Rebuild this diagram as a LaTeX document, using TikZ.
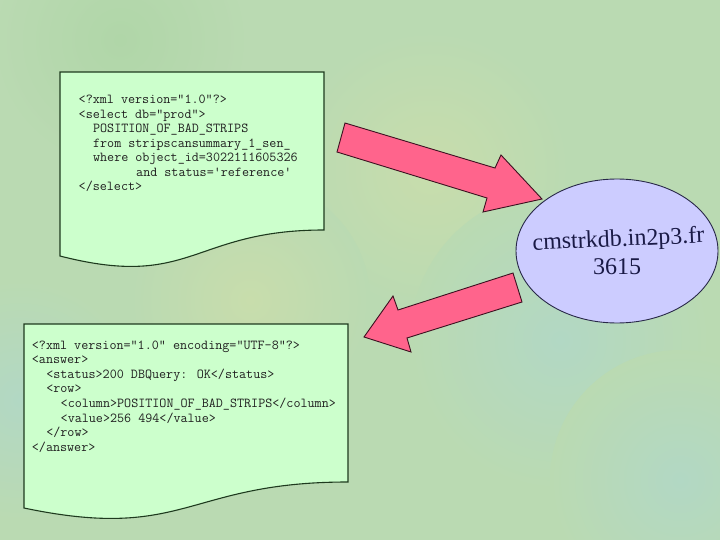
\documentclass[tikz,border=0pt]{standalone}
\usepackage{fontspec}
\newfontfamily\dbfont{Liberation Serif}
\usetikzlibrary{shapes.geometric}
\definecolor{bgbase}{RGB}{186,218,178}
\definecolor{bgyellow}{RGB}{200,221,172}
\definecolor{bgblue}{RGB}{178,216,196}
\definecolor{bggreen}{RGB}{176,214,168}
\definecolor{docfill}{RGB}{204,255,204}
\definecolor{docline}{RGB}{30,58,30}
\definecolor{codetext}{RGB}{32,32,32}
\definecolor{arrowfill}{RGB}{255,100,140}
\definecolor{arrowline}{RGB}{60,16,32}
\definecolor{dbfill}{RGB}{204,204,255}
\definecolor{dbline}{RGB}{40,40,72}
\definecolor{dbtext}{RGB}{26,26,70}
\begin{document}
\begin{tikzpicture}[x=1pt,y=-1pt,
  doc/.style={fill=docfill, draw=docline, line width=1.1pt},
  code/.style={anchor=base west, inner sep=0pt, font=\fontsize{13.7}{14.5}\selectfont\ttfamily, text=codetext},
  blockarrow/.style={fill=arrowfill, draw=arrowline, line width=0.9pt, line join=miter},
  dbtxt/.style={inner sep=0pt, font=\dbfont\fontsize{24}{24}\selectfont, text=dbtext}]
% background
\useasboundingbox (0,0) rectangle (720,540);
\fill[bgbase] (0,0) rectangle (720,540);
\begin{scope}
\clip (0,0) rectangle (720,540);
\shade[inner color=bgyellow, outer color=bgbase] (430,170) circle (140);
\shade[inner color=bgyellow, outer color=bgbase] (250,300) circle (120);
\shade[inner color=bgblue, outer color=bgbase] (560,340) circle (150);
\shade[inner color=bgblue, outer color=bgbase] (20,400) circle (120);
\shade[inner color=bgblue, outer color=bgbase] (680,480) circle (130);
\shade[inner color=bggreen, outer color=bgbase] (120,40) circle (130);
\end{scope}
% request document
\draw[doc] (60,72) -- (324,72) -- (324,230) .. controls (192,230) and (192,290) .. (60,256) -- cycle;
\node[code] (q1) at (78.5,104) {<?xml version=\textquotedbl 1.0\textquotedbl ?>};
\node[code] (q2) at (78.5,118.45) {<select db=\textquotedbl prod\textquotedbl >};
\node[code] (q3) at (92.9,132.9) {POSITION\_OF\_BAD\_STRIPS};
\node[code] (q4) at (92.9,147.35) {from stripscansummary\_1\_sen\_};
\node[code] (q5) at (92.9,161.8) {where object\_id=3022111605326};
\node[code] (q6) at (136,176.25) {and status=\textquotesingle reference\textquotesingle};
\node[code] (q7) at (78.5,190.7) {</select>};
% answer document
\draw[doc] (24,324) -- (348,324) -- (348,482) .. controls (186,482) and (186,542) .. (24,508) -- cycle;
\node[code] (a1) at (31.7,349) {<?xml version=\textquotedbl 1.0\textquotedbl\ encoding=\textquotedbl UTF-8\textquotedbl ?>};
\node[code] (a2) at (31.7,363.6) {<answer>};
\node[code] (a3) at (46.1,378.2) {<status>200 DBQuery: OK</status>};
\node[code] (a4) at (46.1,392.8) {<row>};
\node[code] (a5) at (60.5,407.4) {<column>POSITION\_OF\_BAD\_STRIPS</column>};
\node[code] (a6) at (60.5,422) {<value>256 494</value>};
\node[code] (a7) at (46.1,436.6) {</row>};
\node[code] (a8) at (31.7,451.2) {</answer>};
% server
\node[ellipse, draw=dbline, fill=dbfill, line width=0.9pt, minimum width=202pt, minimum height=144pt, inner sep=0pt] (db) at (617,251) {};
\node[dbtxt, rotate=2.5] (dbname) at (618.5,240.5) {cmstrkdb.in2p3.fr};
\node[dbtxt] (dbport) at (617,266.5) {3615};
% block arrows
\draw[blockarrow] (345,123) -- (495,168) -- (501,155) -- (542,199) -- (483,212) -- (487,198) -- (337,152) -- cycle;
\draw[blockarrow] (513,273) -- (398,310) -- (393,296) -- (364,337) -- (411,352) -- (407,338) -- (522,302) -- cycle;
\end{tikzpicture}
\end{document}
